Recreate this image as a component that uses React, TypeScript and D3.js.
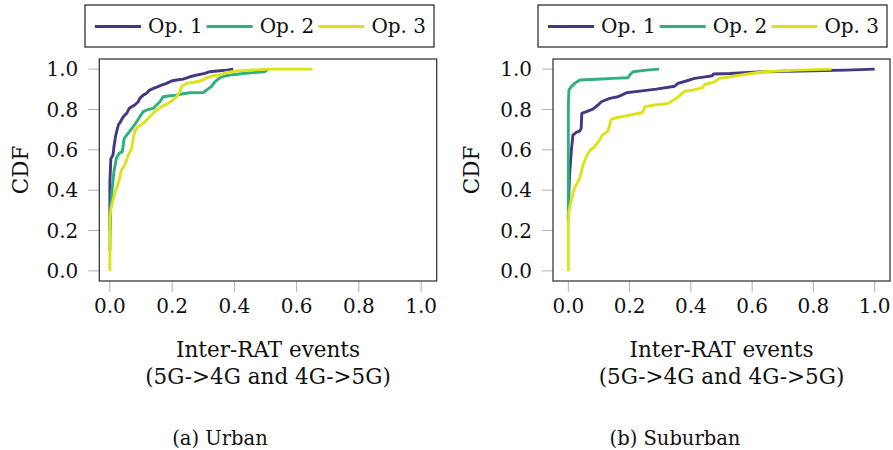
import React from "react";
import * as d3 from "d3";

// Empirical CDFs of inter-RAT events (5G->4G and 4G->5G), one curve per operator.
type Pt = [number, number];

const operators = ["Op. 1", "Op. 2", "Op. 3"];
const colors = ["#453781", "#2db07d", "#dde318"];

const xTicks = [0, 0.2, 0.4, 0.6, 0.8, 1.0];
const yTicks = [0, 0.2, 0.4, 0.6, 0.8, 1.0];

// Urban
const urbanOp1: Pt[] = [
  [0, 0.2], [0, 0.44], [0.003, 0.555], [0.01, 0.574], [0.013, 0.615], [0.019, 0.673],
  [0.027, 0.723], [0.034, 0.739], [0.043, 0.764], [0.054, 0.781], [0.062, 0.805],
  [0.07, 0.813], [0.08, 0.822], [0.091, 0.838], [0.096, 0.855], [0.107, 0.871],
  [0.118, 0.88], [0.128, 0.896], [0.139, 0.904], [0.155, 0.913], [0.166, 0.921],
  [0.182, 0.929], [0.198, 0.941], [0.214, 0.946], [0.235, 0.95], [0.257, 0.962],
  [0.278, 0.97], [0.305, 0.979], [0.321, 0.987], [0.353, 0.992], [0.375, 0.995],
  [0.396, 1.0],
];
const urbanOp2: Pt[] = [
  [0, 0.1], [0.002, 0.31], [0.0075, 0.409], [0.013, 0.492], [0.021, 0.558],
  [0.03, 0.583], [0.04, 0.591], [0.043, 0.624], [0.046, 0.657], [0.054, 0.673],
  [0.064, 0.693], [0.075, 0.715], [0.086, 0.739], [0.096, 0.764], [0.107, 0.789],
  [0.123, 0.8], [0.139, 0.805], [0.15, 0.822], [0.161, 0.838], [0.171, 0.863],
  [0.193, 0.868], [0.214, 0.871], [0.235, 0.878], [0.257, 0.883], [0.3, 0.884],
  [0.31, 0.896], [0.326, 0.913], [0.337, 0.937], [0.348, 0.95], [0.359, 0.962],
  [0.385, 0.97], [0.428, 0.978], [0.471, 0.984], [0.498, 0.987], [0.508, 1.0],
];
const urbanOp3: Pt[] = [
  [0, 0], [0, 0.27], [0.005, 0.318], [0.016, 0.385], [0.027, 0.434], [0.037, 0.5],
  [0.048, 0.525], [0.059, 0.574], [0.07, 0.607], [0.075, 0.657], [0.08, 0.69],
  [0.091, 0.715], [0.107, 0.731], [0.118, 0.748], [0.128, 0.764], [0.139, 0.781],
  [0.15, 0.797], [0.166, 0.814], [0.187, 0.83], [0.203, 0.847], [0.214, 0.863],
  [0.225, 0.888], [0.23, 0.913], [0.246, 0.929], [0.278, 0.937], [0.3, 0.946],
  [0.31, 0.957], [0.332, 0.967], [0.353, 0.97], [0.375, 0.984], [0.407, 0.99],
  [0.449, 0.995], [0.514, 1.0], [0.651, 1.0],
];

// Suburban
const suburbanOp1: Pt[] = [
  [0, 0.25], [0.002, 0.4], [0.004, 0.475], [0.0096, 0.591], [0.015, 0.673], [0.026, 0.686],
  [0.037, 0.693], [0.042, 0.706], [0.044, 0.781], [0.059, 0.789], [0.08, 0.802],
  [0.097, 0.822], [0.108, 0.838], [0.135, 0.855], [0.162, 0.863], [0.179, 0.875],
  [0.19, 0.883], [0.233, 0.891], [0.287, 0.901], [0.347, 0.915], [0.358, 0.929],
  [0.385, 0.941], [0.412, 0.954], [0.44, 0.96], [0.47, 0.967], [0.474, 0.976],
  [0.527, 0.978], [0.635, 0.987], [0.799, 0.992], [0.908, 0.995], [1.0, 1.0],
];
const suburbanOp2: Pt[] = [
  [0, 0.24], [0, 0.822], [0.002, 0.896], [0.0096, 0.913], [0.0205, 0.929],
  [0.037, 0.946], [0.092, 0.95], [0.146, 0.954], [0.195, 0.957], [0.2, 0.97],
  [0.211, 0.987], [0.255, 0.995], [0.296, 1.0],
];
const suburbanOp3: Pt[] = [
  [0, 0], [0, 0.228], [0.002, 0.294], [0.0096, 0.351], [0.02, 0.409], [0.037, 0.459],
  [0.048, 0.525], [0.061, 0.574], [0.072, 0.599], [0.086, 0.616], [0.102, 0.648],
  [0.111, 0.673], [0.129, 0.693], [0.135, 0.723], [0.14, 0.752], [0.157, 0.759],
  [0.2, 0.772], [0.242, 0.785], [0.25, 0.814], [0.282, 0.822], [0.325, 0.83],
  [0.353, 0.855], [0.38, 0.891], [0.407, 0.896], [0.438, 0.908], [0.445, 0.924],
  [0.478, 0.937], [0.494, 0.954], [0.549, 0.967], [0.636, 0.987], [0.745, 0.995],
  [0.859, 1.0],
];

const FONT = "'DejaVu Serif', serif";

type PanelProps = {
  x0: number;
  x1: number;
  xMin: number;
  series: Pt[][];
  legendX: number;
  captionX: number;
  caption: string;
  yLabelX: number;
};

const TOP = 59;
const BOTTOM = 281;

function Panel({ x0, x1, xMin, series, legendX, captionX, caption, yLabelX }: PanelProps) {
  const x = d3.scaleLinear().domain([xMin, 1.05]).range([x0, x1]);
  const y = d3.scaleLinear().domain([-0.05, 1.05]).range([BOTTOM, TOP]);
  const line = d3
    .line<Pt>()
    .x((d) => x(d[0]))
    .y((d) => y(d[1]));
  const cx = (x0 + x1) / 2;
  const cy = (TOP + BOTTOM) / 2;
  const fmt = d3.format(".1f");

  return (
    <g>
      {/* legend */}
      <rect x={legendX} y={5} width={349} height={42} fill="white" stroke="#222" strokeWidth={1.2} />
      {operators.map((name, i) => {
        const lx = legendX + 10 + i * 111.7;
        return (
          <g key={name}>
            <line x1={lx} x2={lx + 46} y1={26.5} y2={26.5} stroke={colors[i]} strokeWidth={2.8} />
            <text x={lx + 53} y={33} fontFamily={FONT} fontSize={20} fill="#111">
              {name}
            </text>
          </g>
        );
      })}

      {/* ticks */}
      {yTicks.map((t) => (
        <g key={"y" + t}>
          <line x1={x0 - 11} x2={x0} y1={y(t)} y2={y(t)} stroke="#b0b0b0" strokeWidth={1} />
          <text
            x={x0 - 21}
            y={y(t)}
            dy="0.36em"
            textAnchor="end"
            fontFamily={FONT}
            fontSize={20}
            fill="#111"
          >
            {fmt(t)}
          </text>
        </g>
      ))}
      {xTicks.map((t) => (
        <g key={"x" + t}>
          <line x1={x(t)} x2={x(t)} y1={BOTTOM} y2={BOTTOM + 11} stroke="#b0b0b0" strokeWidth={1} />
          <text x={x(t)} y={312.5} textAnchor="middle" fontFamily={FONT} fontSize={20} fill="#111">
            {fmt(t)}
          </text>
        </g>
      ))}

      {/* curves */}
      <clipPath id={"clip" + x0}>
        <rect x={x0} y={TOP} width={x1 - x0} height={BOTTOM - TOP} />
      </clipPath>
      <g clipPath={`url(#clip${x0})`}>
        {series.map((s, i) => (
          <path
            key={i}
            d={line(s) ?? ""}
            fill="none"
            stroke={colors[i]}
            strokeWidth={2.9}
            strokeLinejoin="round"
          />
        ))}
      </g>

      {/* frame */}
      <rect x={x0} y={TOP} width={x1 - x0} height={BOTTOM - TOP} fill="none" stroke="#3a3a3a" strokeWidth={1.3} />

      {/* axis labels */}
      <text
        transform={`translate(${yLabelX},${cy}) rotate(-90)`}
        textAnchor="middle"
        dy="0.36em"
        fontFamily={FONT}
        fontSize={21.5}
        fill="#111"
      >
        CDF
      </text>
      <text x={cx} y={357} textAnchor="middle" fontFamily={FONT} fontSize={21.5} fill="#111">
        Inter-RAT events
      </text>
      <text x={cx} y={384} textAnchor="middle" fontFamily={FONT} fontSize={21.5} fill="#111">
        (5G-&gt;4G and 4G-&gt;5G)
      </text>
      <text x={captionX} y={445} textAnchor="middle" fontFamily={FONT} fontSize={19.5} fill="#111">
        {caption}
      </text>
    </g>
  );
}

export default function App() {
  return (
    <svg
      width={893}
      height={450}
      viewBox="0 0 893 450"
      style={{ position: "absolute", left: 0, top: 0, background: "white" }}
    >
      <rect width={893} height={450} fill="white" />
      <Panel
        x0={99.3}
        x1={436.7}
        xMin={-0.034}
        series={[urbanOp1, urbanOp2, urbanOp3]}
        legendX={85}
        captionX={220}
        caption="(a) Urban"
        yLabelX={20}
      />
      <Panel
        x0={553}
        x1={890}
        xMin={-0.05}
        series={[suburbanOp1, suburbanOp2, suburbanOp3]}
        legendX={538}
        captionX={675}
        caption="(b) Suburban"
        yLabelX={471}
      />
    </svg>
  );
}
